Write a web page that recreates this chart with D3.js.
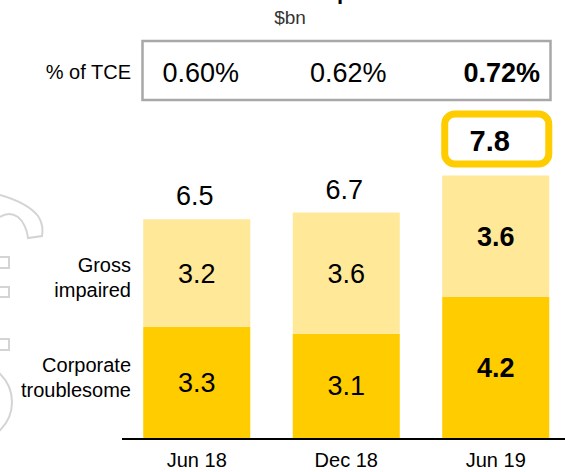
<!DOCTYPE html>
<html>
<head>
<meta charset="utf-8">
<script src="https://cdn.jsdelivr.net/npm/d3@7"></script>
<style>
  body { margin: 0; background: #fff; }
  svg { display: block; font-family: "Liberation Sans", Arial, sans-serif; }
</style>
</head>
<body>
<div id="chart"></div>
<script>
// data
var periods = ["Jun 18", "Dec 18", "Jun 19"];
var corporateTroublesome = [3.3, 3.1, 4.2];
var grossImpaired = [3.2, 3.6, 3.6];
var totals = [6.5, 6.7, 7.8];
var pctOfTce = ["0.60%", "0.62%", "0.72%"];
var seriesNames = [["Gross", "impaired"], ["Corporate", "troublesome"]];
var highlightIndex = 2;

var width = 565, height = 472;
var darkYellow = "#FFCC00", lightYellow = "#FFE898";

var svg = d3.select("#chart")
            .append("svg")
            .attr("width", width)
            .attr("height", height);

var x = d3.scaleBand()
          .domain(periods)
          .range([122, 570.5])
          .paddingInner(0.284)
          .paddingOuter(0.142);

var y = d3.scaleLinear()
          .domain([0, 7.8])
          .range([438, 175.5]);

// faint logo outline cut off at the left edge
var wm = svg.append("g")
            .attr("fill", "none")
            .attr("stroke", "#d4d4d4")
            .attr("stroke-width", 2);
wm.append("path")
  .attr("d", "M0,195 C14,199 30,206 38,216 C42,222 43,230 42,236 L28,238 C27,230 25,223 18,217 C12,213 6,213 0,217");
[[257, 268], [287, 297], [339, 350]].forEach(function(s) {
    wm.append("rect")
      .attr("x", -6).attr("y", s[0])
      .attr("width", 15).attr("height", s[1] - s[0]);
});
wm.append("circle")
  .attr("cx", -27).attr("cy", 402).attr("r", 39);

// title, mostly off the top of the crop (only a descender shows)
var title = svg.append("text")
               .attr("y", -1)
               .attr("font-size", 22)
               .attr("font-weight", "bold")
               .attr("fill", "#000")
               .text("Stressed exposures");
var pIdx = title.text().indexOf("p");
var pPos = title.node().getStartPositionOfChar(pIdx).x;
title.attr("x", 337 - pPos);

svg.append("text")
   .attr("x", 290)
   .attr("y", 24)
   .attr("text-anchor", "middle")
   .attr("font-size", 19)
   .attr("fill", "#333")
   .text("$bn");

// % of TCE row
svg.append("rect")
   .attr("x", 142.5)
   .attr("y", 41)
   .attr("width", 408)
   .attr("height", 59)
   .attr("fill", "none")
   .attr("stroke", "#a8a8a8")
   .attr("stroke-width", 2.5);

svg.append("text")
   .attr("x", 131)
   .attr("y", 79)
   .attr("text-anchor", "end")
   .attr("font-size", 20)
   .text("% of TCE");

svg.selectAll(".pct")
   .data(pctOfTce)
   .join("text")
   .attr("class", "pct")
   .attr("x", (d, i) => x(periods[i]) + x.bandwidth() / 2 + (i == 0 ? 4 : i == 1 ? 2 : 6))
   .attr("y", 82)
   .attr("text-anchor", "middle")
   .attr("font-size", 27)
   .attr("font-weight", (d, i) => i == highlightIndex ? "bold" : "normal")
   .text(d => d);

// stacked bars
var stacked = periods.map((p, i) => ({ period: p, low: corporateTroublesome[i], high: grossImpaired[i], total: totals[i] }));

svg.selectAll(".low")
   .data(stacked)
   .join("rect")
   .attr("class", "low")
   .attr("x", d => x(d.period))
   .attr("width", x.bandwidth())
   .attr("y", d => y(d.low))
   .attr("height", d => y(0) - y(d.low))
   .attr("fill", darkYellow);

svg.selectAll(".high")
   .data(stacked)
   .join("rect")
   .attr("class", "high")
   .attr("x", d => x(d.period))
   .attr("width", x.bandwidth())
   .attr("y", d => y(d.low + d.high))
   .attr("height", d => y(d.low) - y(d.low + d.high))
   .attr("fill", lightYellow);

// segment values
function segLabels(cls, mid, val) {
    svg.selectAll("." + cls)
       .data(stacked)
       .join("text")
       .attr("class", cls)
       .attr("x", d => x(d.period) + x.bandwidth() / 2)
       .attr("y", d => mid(d) + 9.5)
       .attr("text-anchor", "middle")
       .attr("font-size", 27)
       .attr("font-weight", (d, i) => i == highlightIndex ? "bold" : "normal")
       .text(val);
}
segLabels("lowlbl", d => (y(0) + y(d.low)) / 2, d => d.low.toFixed(1));
segLabels("highlbl", d => (y(d.low) + y(d.low + d.high)) / 2, d => d.high.toFixed(1));

// totals above the bars
svg.selectAll(".tot")
   .data(stacked.filter((d, i) => i != highlightIndex))
   .join("text")
   .attr("class", "tot")
   .attr("x", d => x(d.period) + x.bandwidth() / 2 - 2)
   .attr("y", d => y(d.total) - 14)
   .attr("text-anchor", "middle")
   .attr("font-size", 27)
   .text(d => d.total.toFixed(1));

// highlighted latest total
var hl = stacked[highlightIndex];
var hlX = x(hl.period);
svg.append("rect")
   .attr("x", hlX + 2.5)
   .attr("y", y(hl.total) - 61.5)
   .attr("width", x.bandwidth() - 3)
   .attr("height", 50)
   .attr("rx", 10)
   .attr("fill", "#fff")
   .attr("stroke", darkYellow)
   .attr("stroke-width", 7);
svg.append("text")
   .attr("x", hlX + x.bandwidth() / 2 - 6)
   .attr("y", y(hl.total) - 25)
   .attr("text-anchor", "middle")
   .attr("font-size", 29)
   .attr("font-weight", "bold")
   .text(hl.total.toFixed(1));

// series labels on the left
var firstBar = stacked[0];
var sideMids = [(y(firstBar.low) + y(firstBar.low + firstBar.high)) / 2 + 4, (y(0) + y(firstBar.low)) / 2 - 5];
seriesNames.forEach(function(lines, k) {
    var t = svg.append("text")
               .attr("text-anchor", "end")
               .attr("font-size", 20);
    lines.forEach(function(line, j) {
        t.append("tspan")
         .attr("x", 131)
         .attr("y", sideMids[k] - 5 + j * 25)
         .text(line);
    });
});

// baseline and categories
svg.append("line")
   .attr("x1", 122)
   .attr("x2", 565)
   .attr("y1", 439)
   .attr("y2", 439)
   .attr("stroke", "#000")
   .attr("stroke-width", 2);

svg.selectAll(".cat")
   .data(periods)
   .join("text")
   .attr("class", "cat")
   .attr("x", d => x(d) + x.bandwidth() / 2)
   .attr("y", 467)
   .attr("text-anchor", "middle")
   .attr("font-size", 20)
   .text(d => d);
</script>
</body>
</html>
